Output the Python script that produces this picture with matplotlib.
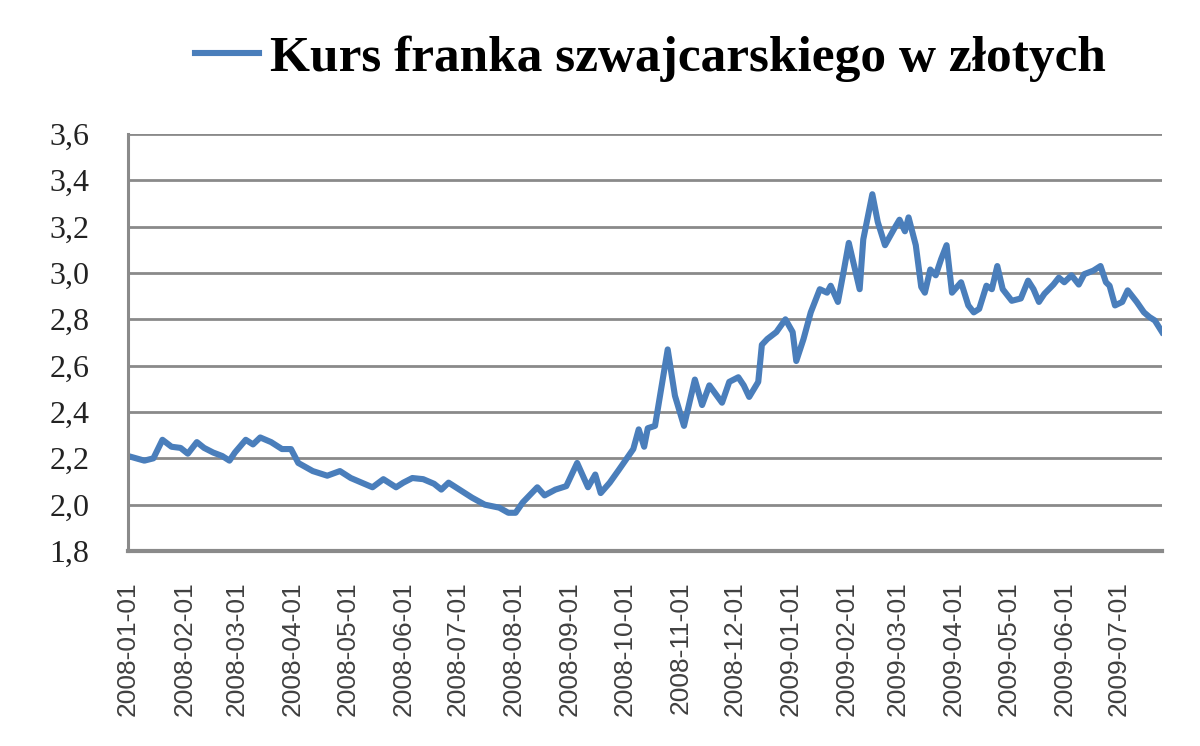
import matplotlib
matplotlib.use("Agg")
import matplotlib.pyplot as plt
import matplotlib.dates as mdates
from matplotlib.ticker import FuncFormatter, MultipleLocator
import pandas as pd

# CHF/PLN exchange rate
dates = [
    "2008-01-01", "2008-01-10", "2008-01-15", "2008-01-20", "2008-01-25", "2008-01-30",
    "2008-02-03", "2008-02-08", "2008-02-12", "2008-02-17", "2008-02-22", "2008-02-26",
    "2008-02-29", "2008-03-06", "2008-03-10", "2008-03-14", "2008-03-17", "2008-03-20",
    "2008-03-26", "2008-03-31", "2008-04-04", "2008-04-12", "2008-04-20", "2008-04-27",
    "2008-05-03", "2008-05-09", "2008-05-15", "2008-05-21", "2008-05-28", "2008-06-01",
    "2008-06-06", "2008-06-12", "2008-06-18", "2008-06-22", "2008-06-26", "2008-07-02",
    "2008-07-09", "2008-07-16", "2008-07-24", "2008-07-29", "2008-08-02", "2008-08-06",
    "2008-08-14", "2008-08-18", "2008-08-24", "2008-08-30", "2008-09-05", "2008-09-11",
    "2008-09-15", "2008-09-18", "2008-09-23", "2008-09-28", "2008-10-06", "2008-10-09",
    "2008-10-12", "2008-10-14", "2008-10-18", "2008-10-25", "2008-10-29", "2008-11-03",
    "2008-11-09", "2008-11-13", "2008-11-17", "2008-11-24", "2008-11-28", "2008-12-03",
    "2008-12-06", "2008-12-09", "2008-12-14", "2008-12-16", "2008-12-19", "2008-12-24",
    "2008-12-29", "2009-01-02", "2009-01-04", "2009-01-08", "2009-01-12", "2009-01-17",
    "2009-01-21", "2009-01-23", "2009-01-27", "2009-01-30", "2009-02-02", "2009-02-05",
    "2009-02-08", "2009-02-10", "2009-02-15", "2009-02-18", "2009-02-22", "2009-02-27",
    "2009-03-02", "2009-03-05", "2009-03-07", "2009-03-11", "2009-03-14", "2009-03-16",
    "2009-03-19", "2009-03-22", "2009-03-25", "2009-03-28", "2009-03-31", "2009-04-05",
    "2009-04-09", "2009-04-12", "2009-04-15", "2009-04-19", "2009-04-22", "2009-04-25",
    "2009-04-28", "2009-05-03", "2009-05-08", "2009-05-12", "2009-05-15", "2009-05-18",
    "2009-05-21", "2009-05-26", "2009-05-29", "2009-06-01", "2009-06-05", "2009-06-09",
    "2009-06-12", "2009-06-17", "2009-06-21", "2009-06-24", "2009-06-26", "2009-06-29",
    "2009-07-03", "2009-07-06", "2009-07-11", "2009-07-15", "2009-07-18", "2009-07-21",
    "2009-07-25",
]
kurs = [
    2.21, 2.19, 2.20, 2.28, 2.25, 2.245,
    2.22, 2.27, 2.245, 2.225, 2.21, 2.19,
    2.225, 2.28, 2.26, 2.29, 2.28, 2.27,
    2.24, 2.24, 2.18, 2.145, 2.125, 2.145,
    2.115, 2.095, 2.075, 2.11, 2.075, 2.095,
    2.115, 2.11, 2.09, 2.065, 2.095, 2.065,
    2.03, 2.0, 1.987, 1.965, 1.965, 2.01,
    2.075, 2.04, 2.065, 2.08, 2.18, 2.075,
    2.13, 2.05, 2.095, 2.15, 2.24, 2.325,
    2.25, 2.33, 2.34, 2.67, 2.47, 2.34,
    2.54, 2.43, 2.515, 2.44, 2.53, 2.55,
    2.515, 2.465, 2.53, 2.69, 2.715, 2.745,
    2.80, 2.745, 2.62, 2.715, 2.83, 2.93,
    2.915, 2.945, 2.875, 3.00, 3.13, 3.03,
    2.93, 3.145, 3.34, 3.22, 3.12, 3.19,
    3.23, 3.18, 3.24, 3.12, 2.94, 2.915,
    3.015, 2.99, 3.06, 3.12, 2.915, 2.96,
    2.86, 2.83, 2.845, 2.945, 2.93, 3.03,
    2.93, 2.88, 2.89, 2.967, 2.93, 2.875,
    2.91, 2.95, 2.98, 2.96, 2.99, 2.95,
    2.995, 3.01, 3.03, 2.96, 2.945, 2.86,
    2.875, 2.925, 2.875, 2.83, 2.81, 2.795,
    2.745,
]
label = "Kurs franka szwajcarskiego w złotych"

x = pd.to_datetime(dates)
blue = "#4A7EBB"
grey = "#8A8A8A"

fig = plt.figure(figsize=(12, 7.46), dpi=100)
ax = fig.add_axes([0.1067, 0.2614, 0.8617, 0.559])

line, = ax.plot(x, kurs, color=blue, lw=4.4, solid_joinstyle="round", label=label)

ax.set_ylim(1.8, 3.6)
ax.yaxis.set_major_locator(MultipleLocator(0.2))
ax.yaxis.set_major_formatter(FuncFormatter(lambda v, p: f"{v:.1f}".replace(".", ",")))
ax.set_xlim(x[0], x[-1])
ax.xaxis.set_major_locator(mdates.MonthLocator())
ax.xaxis.set_major_formatter(mdates.DateFormatter("%Y-%m-%d"))

ax.grid(axis="y", color=grey, lw=2.0)
ax.set_axisbelow(True)
for s in ["top", "right"]:
    ax.spines[s].set_visible(False)
ax.spines["left"].set_color(grey)
ax.spines["left"].set_linewidth(2.2)
ax.spines["bottom"].set_color(grey)
ax.spines["bottom"].set_linewidth(3.0)

ax.tick_params(axis="y", length=0, pad=28, labelsize=23, labelcolor="#222222")
ax.tick_params(axis="x", length=0, pad=22, labelsize=19, labelcolor="#404040", labelrotation=90)
for t in ax.get_yticklabels():
    t.set_fontfamily("Liberation Serif")
for t in ax.get_xticklabels():
    t.set_fontfamily("Liberation Sans")

fig.legend(handles=[line], loc="center", bbox_to_anchor=(0.542, 0.922), frameon=False,
           handlelength=1.25, handletextpad=0.2,
           prop={"family": "Liberation Serif", "weight": "bold", "size": 37})

fig.savefig("out.png", dpi=100)
